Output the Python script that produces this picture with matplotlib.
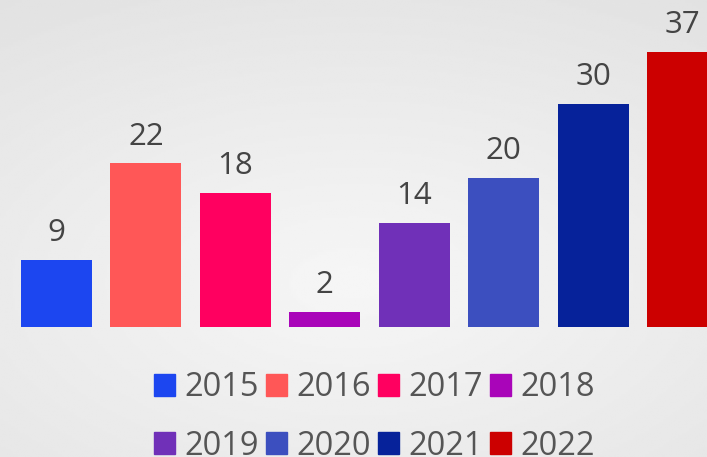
import numpy as np
import matplotlib.pyplot as plt
from matplotlib.patches import Patch

years = ["2015", "2016", "2017", "2018", "2019", "2020", "2021", "2022"]
values = [9, 22, 18, 2, 14, 20, 30, 37]
colors = ["#1c46f0", "#ff5757", "#ff0060", "#a905b9", "#7030b8", "#3c4fbf", "#06229a", "#cc0000"]

plt.rcParams['font.family'] = ['Open Sans', 'DejaVu Sans']

fig = plt.figure(figsize=(7.07, 4.57), dpi=100)

# soft radial background
bg = fig.add_axes([0, 0, 1, 1], zorder=-10)
yy, xx = np.mgrid[0:1:200j, 0:1:300j]
r = np.sqrt(((xx - 0.5) / 0.9) ** 2 + ((yy - 0.62) / 0.75) ** 2)
shade = 0.965 - 0.08 * np.clip(r, 0, 1)
bg.imshow(shade, cmap='gray', vmin=0, vmax=1, aspect='auto', extent=[0, 1, 0, 1])
bg.axis('off')

ax = fig.add_axes([0, 130 / 457, 1, 327 / 457])
ax.patch.set_alpha(0)
x = np.arange(len(years))
bars = ax.bar(x, values, width=0.794, color=colors)
for xi, v in zip(x, values):
    ax.annotate(str(v), (xi, v), xytext=(0, 13.5), textcoords='offset points',
                ha='center', va='baseline', fontsize=22.5, color='#444444')
ax.set_xlim(-0.632, 7.274)
ax.set_ylim(0, 43.95)
ax.axis('off')

# legend fills row by row: 2015-2018 on top, 2019-2022 below
handles = [Patch(color=c) for c in colors]
order = [0, 4, 1, 5, 2, 6, 3, 7]
fig.legend([handles[i] for i in order], [years[i] for i in order], ncol=4,
           loc='center', bbox_to_anchor=(0.530, 0.088), frameon=False,
           fontsize=23.5, handlelength=0.63, handleheight=0.67,
           handletextpad=0.3, columnspacing=0.22, labelspacing=0.78,
           labelcolor='#555555')

fig.savefig("out.png", dpi=100)
